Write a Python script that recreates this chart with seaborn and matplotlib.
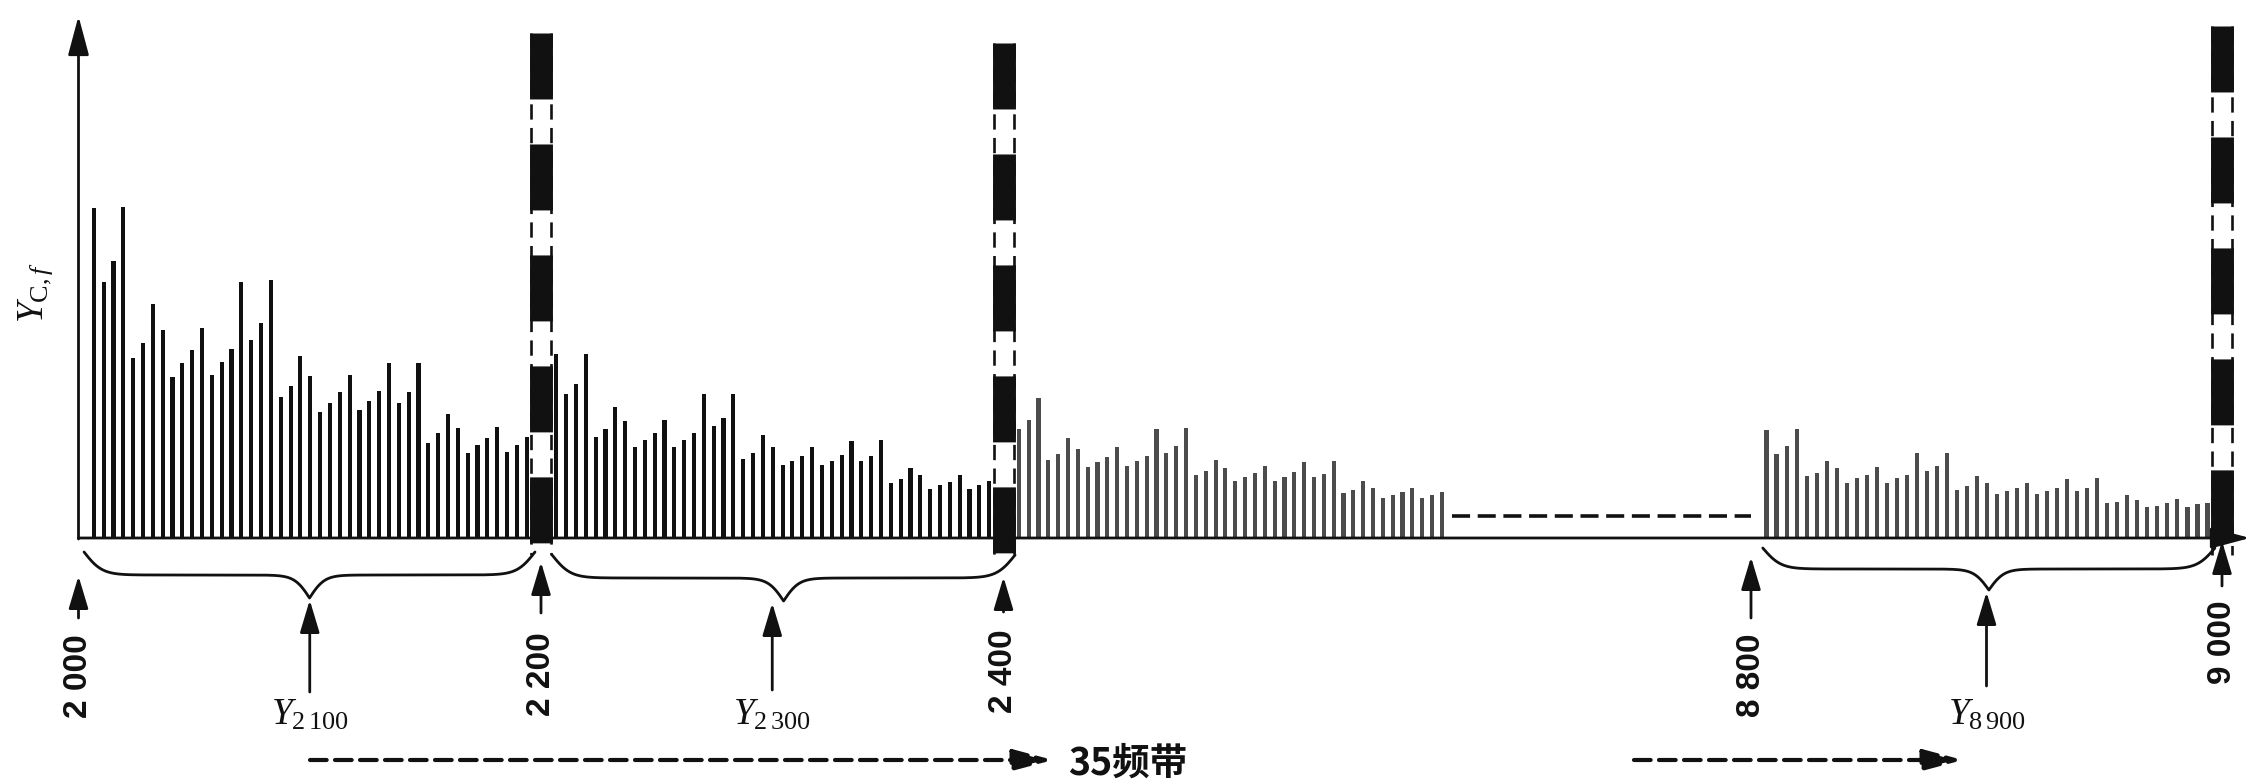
import numpy as np
import pandas as pd
import matplotlib
matplotlib.use("Agg")
import matplotlib.pyplot as plt
import matplotlib.transforms as mtransforms
import seaborn as sns

# ── spectrum values Y_C,f, one per frequency bin (arbitrary units) ─────────
BIN_STEP = 200 / 47                      # Hz between two bins
seg_starts = [2006.6, 2206.6, 2406.6, 8806.6]
seg_shade = ["dark", "dark", "light", "light"]

seg1_vals = [35.4, 27.4, 29.7, 35.5, 19.3, 20.9, 25.1, 22.3, 17.3, 18.7,
             20.1, 22.5, 17.5, 18.9, 20.3, 27.4, 21.2, 23.0, 27.6, 15.1,
             16.3, 19.5, 17.4, 13.5, 14.5, 15.6, 17.5, 13.7, 14.7, 15.7,
             18.8, 14.5, 15.6, 18.8, 10.2, 11.2, 13.3, 11.8, 9.1, 10.0,
             10.7, 11.9, 9.2, 10.0, 10.8]
seg2_vals = [19.7, 15.4, 16.5, 19.7, 10.8, 11.7, 14.0, 12.5, 9.8, 10.5,
             11.3, 12.6, 9.8, 10.5, 11.3, 15.4, 12.0, 12.9, 15.4, 8.5,
             9.1, 11.0, 9.8, 7.8, 8.3, 8.8, 9.8, 7.8, 8.3, 8.9,
             10.4, 8.2, 8.8, 10.5, 5.9, 6.3, 7.5, 6.8, 5.2, 5.7,
             6.0, 6.8, 5.3, 5.7, 6.1]
seg3_vals = [11.7, 12.6, 15.0, 8.4, 9.0, 10.7, 9.5, 7.6, 8.1, 8.7,
             9.7, 7.7, 8.2, 8.8, 11.7, 9.1, 9.9, 11.8, 6.7, 7.2,
             8.4, 7.5, 6.1, 6.5, 7.0, 7.7, 6.1, 6.5, 7.1, 8.1,
             6.5, 6.9, 8.2, 4.8, 5.1, 6.1, 5.4, 4.3, 4.6, 4.9,
             5.4, 4.3, 4.6, 4.9]
seg4_vals = [11.6, 9.0, 9.9, 11.7, 6.6, 7.0, 8.3, 7.5, 5.9, 6.4,
             6.8, 7.6, 5.9, 6.4, 6.8, 9.1, 7.2, 7.7, 9.1, 5.1,
             5.6, 6.6, 5.9, 4.7, 5.0, 5.4, 5.9, 4.7, 5.0, 5.4,
             6.3, 5.0, 5.4, 6.4, 3.7, 3.9, 4.6, 4.1, 3.3, 3.4,
             3.8, 4.2, 3.3, 3.6, 3.8]

edge_freqs = [2000, 2200, 2400, 8800, 9000]
edge_labels = ["2 000", "2 200", "2 400", "8 800", "9 000"]
divider_freqs = [2200, 2400, 9000]
centre_freqs = [2100, 2300, 8900]
centre_labels = [r"$Y_{2\,100}$", r"$Y_{2\,300}$", r"$Y_{8\,900}$"]
brace_spans = [(2002.4, 2197.4), (2204.8, 2405.0), (8805.0, 8997.0)]
gap_freqs = [2594, 8800]                 # part of the spectrum left out
gap_level = 2.4
band_note = "35频带"

# ── layout of the picture ────────────────────────────────────────────────
W, H = 2251, 782
BASE_PX = 538                            # pixel row of the frequency axis
PX_PER_UNIT = 9.333
KNOT_F = [1900, 2000, 2600, 8800, 9000, 9100]
KNOT_P = [-152.75, 78.5, 1466.0, 1751.0, 2222.0, 2457.5]


def fwd(f):
    return np.interp(f, KNOT_F, KNOT_P)


def inv(p):
    return np.interp(p, KNOT_P, KNOT_F)


def fy(px):
    return 1 - px / H


frames = []
for start, vals, shade in zip(seg_starts, [seg1_vals, seg2_vals, seg3_vals, seg4_vals], seg_shade):
    frames.append(pd.DataFrame({
        "freq": start + BIN_STEP * np.arange(len(vals)),
        "Y": vals,
        "shade": shade,
    }))
df = pd.concat(frames, ignore_index=True)

sns.set_theme(style="white")
plt.rcParams["lines.scale_dashes"] = False
plt.rcParams["font.family"] = ["Liberation Sans", "DejaVu Sans"]
plt.rcParams["mathtext.fontset"] = "custom"
plt.rcParams["mathtext.rm"] = "Liberation Serif"
plt.rcParams["mathtext.it"] = "Liberation Serif:italic"
plt.rcParams["mathtext.bf"] = "Liberation Serif:bold"

INK = "#111111"

fig = plt.figure(figsize=(W / 100, H / 100), dpi=100)
ax = fig.add_axes([0, 0, 1, 1])
ax.set_xscale("function", functions=(fwd, inv))

sns.barplot(data=df, x="freq", y="Y", hue="shade",
            palette={"dark": "#101010", "light": "#4c4c4c"},
            native_scale=True, dodge=False, width=0.42, errorbar=None,
            saturation=1, linewidth=0, legend=False, ax=ax, zorder=2)

ax.set_xlim(inv(0), inv(W))
ax.set_ylim(-(H - BASE_PX) / PX_PER_UNIT, BASE_PX / PX_PER_UNIT)
ax.set_axis_off()

blend = ax.get_xaxis_transform()

# ── axes with arrow heads ───────────────────────────────────────────────
axis_arrow = dict(arrowstyle="-|>,head_length=0.6,head_width=0.16", lw=2,
                  color=INK, shrinkA=0, shrinkB=0, mutation_scale=40)
ax.annotate("", xy=(2000, fy(16)), xytext=(2000, fy(BASE_PX + 1)),
            xycoords=blend, textcoords=blend, arrowprops=axis_arrow, zorder=6)
ax.annotate("", xy=(inv(W - 1), 0), xytext=(2000, 0),
            xycoords="data", textcoords="data", arrowprops=axis_arrow, zorder=6)

# skipped part of the spectrum
ax.plot(gap_freqs, [gap_level, gap_level], color=INK, lw=2.6,
        dashes=(13, 5.5), zorder=3)

# ── thick dashed dividers between the 200 Hz bands ──────────────────────
band_tops = [33, 43, 26]
for f, top in zip(divider_freqs, band_tops):
    y0, y1 = fy(top), fy(555)
    ax.plot([f, f], [y0, y1], transform=blend, color="white", lw=16,
            solid_capstyle="butt", zorder=4)
    for dx in (-10, 10):
        tr = mtransforms.offset_copy(blend, fig=fig, x=dx, y=0, units="dots")
        ax.plot([f, f], [y0, y1], transform=tr, color=INK, lw=1.9,
                dashes=(11, 6), zorder=5)
    ax.plot([f, f], [y0, y1], transform=blend, color=INK, lw=16.5,
            dashes=(47.5, 32.4), zorder=5)

# ── arrows and labels at the band edges ─────────────────────────────────
small_arrow = dict(arrowstyle="-|>,head_length=0.5,head_width=0.15", lw=2,
                   color=INK, shrinkA=0, shrinkB=0, mutation_scale=40)
edge_arrow_px = [(618, 576), (613, 562), (612, 577), (618, 557), (586, 541)]
edge_label_px = [676, 674, 671, 675, 642]
for f, lab, (tail, tip), ly in zip(edge_freqs, edge_labels, edge_arrow_px, edge_label_px):
    ax.annotate("", xy=(f, fy(tip)), xytext=(f, fy(tail)),
                xycoords=blend, textcoords=blend, arrowprops=small_arrow, zorder=6)
    ax.text(f, fy(ly), lab, transform=blend, rotation=90, ha="center",
            va="center", fontsize=24, fontweight="bold", color=INK)

# ── braces with the band value Y_f under each ───────────────────────────
brace_rows = [(552, 575), (555, 578), (548, 569)]
centre_tails = [692, 690, 686]
for (f0, f1), (y_end, y_mid), fc, lab, tail in zip(
        brace_spans, brace_rows, centre_freqs, centre_labels, centre_tails):
    u = np.linspace(0, 0.5, 201)
    s = 1 / (1 + np.exp(-50 * u)) + 1 / (1 + np.exp(-60 * (u - 0.5)))
    s = np.concatenate([s, s[-2::-1]])
    xs = np.linspace(f0, f1, s.size)
    ys = y_end + (s - 0.5) * 2 * (y_mid - y_end)
    ax.plot(xs, fy(ys), transform=blend, color=INK, lw=2.0, zorder=6)
    tip = y_mid + (y_mid - y_end)
    ax.annotate("", xy=(fc, fy(tip + 2)), xytext=(fc, fy(tail)),
                xycoords=blend, textcoords=blend, arrowprops=small_arrow, zorder=6)
    ax.text(fc, fy(725), lab, transform=blend, ha="center", va="baseline",
            fontsize=27, color=INK)

# ── y label ─────────────────────────────────────────────────────────────
ax.text(36 / W, fy(292), r"$Y_{\mathrm{C},f}$", transform=ax.transAxes,
        rotation=90, ha="center", va="center", fontsize=27, color=INK)

# ── dashed "35 bands" arrows at the bottom ──────────────────────────────
dash_arrow = dict(arrowstyle="-|>,head_length=0.6,head_width=0.16", lw=3,
                  color=INK, shrinkA=0, shrinkB=0, mutation_scale=40,
                  linestyle=(0, (12, 6)))
for x0, x1 in [(310, 1053), (1634, 1963)]:
    ax.annotate("", xy=(x1 / W, fy(760)), xytext=(x0 / W, fy(760)),
                xycoords="axes fraction", textcoords="axes fraction",
                arrowprops=dash_arrow, zorder=6)
ax.text(1068 / W, fy(763), band_note, transform=ax.transAxes, ha="left",
        va="center", fontsize=27, color=INK, fontweight="bold",
        family=["Noto Sans CJK SC", "DejaVu Sans"])

fig.savefig("out.png", dpi=100)
